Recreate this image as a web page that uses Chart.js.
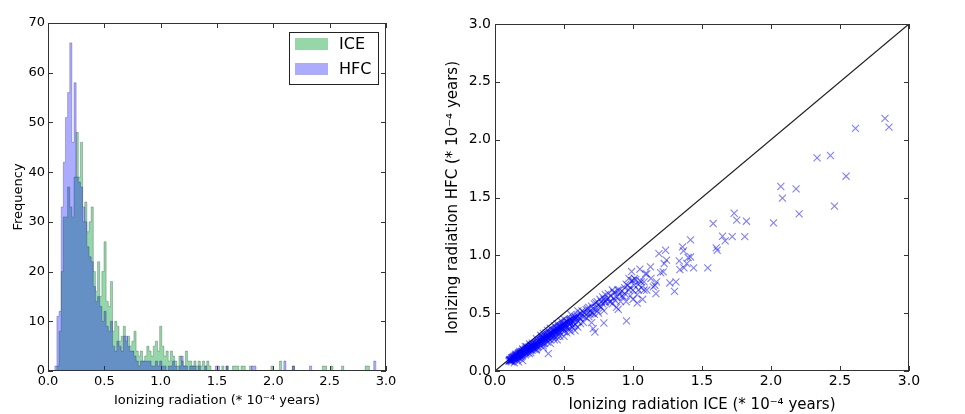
<!DOCTYPE html>
<html>
<head>
<meta charset="utf-8">
<script src="https://cdn.jsdelivr.net/npm/chart.js@4.4.0/dist/chart.umd.min.js"></script>
<style>
  html, body { margin: 0; padding: 0; background: #fff; }
  #wrap { position: relative; width: 965px; height: 414px; }
  #left { position: absolute; left: 0; top: 0; width: 400px; height: 414px; }
  #right { position: absolute; left: 400px; top: 0; width: 565px; height: 414px; }
</style>
</head>
<body>
<div id="wrap">
  <div id="left"><canvas id="hist"></canvas></div>
  <div id="right"><canvas id="scatter"></canvas></div>
</div>
<script>
// histogram bins
const BIN_START = 0.06;
const BIN_WIDTH = 0.019;

const ICE_COUNTS = [
  0, 1, 8, 20, 31, 31, 37, 33, 31, 39,
  48, 39, 46, 30, 34, 28, 30, 33, 20, 16,
  22, 15, 20, 26, 14, 13, 18, 8, 10, 9,
  6, 7, 9, 6, 7, 5, 6, 8, 4, 3,
  4, 2, 3, 5, 4, 3, 5, 6, 4, 9,
  5, 3, 4, 2, 4, 3, 2, 1, 3, 2,
  1, 4, 2, 2, 1, 2, 1, 2, 1, 2,
  1, 2, 1, 0, 0, 0, 0, 0, 1, 0,
  1, 0, 0, 1, 1, 1, 0, 1, 1, 0,
  0, 1, 0, 0, 0, 0, 0, 0, 0, 0,
  0, 1, 0, 0, 0, 2, 0, 0, 0, 0,
  0, 1, 0, 0, 0, 0, 0, 0, 0, 0,
  0, 0, 0, 0, 0, 1, 1, 0, 0, 1,
  0, 0, 0, 0, 1, 0, 0, 0, 0, 0,
  0, 0, 0, 0, 0, 1, 1, 0, 0, 0
];

const HFC_COUNTS = [
  1, 11, 12, 33, 42, 51, 56, 66, 46, 58,
  39, 38, 37, 33, 30, 25, 23, 22, 17, 14,
  15, 13, 10, 12, 9, 8, 10, 5, 4, 6,
  5, 4, 7, 7, 5, 4, 4, 3, 2, 1,
  2, 2, 2, 2, 2, 1, 1, 2, 1, 2,
  1, 1, 0, 1, 1, 2, 1, 0, 1, 3,
  1, 1, 0, 1, 1, 1, 0, 1, 0, 0,
  1, 0, 0, 0, 0, 1, 1, 0, 0, 0,
  1, 0, 0, 0, 0, 0, 0, 0, 0, 0,
  0, 0, 1, 1, 0, 0, 0, 0, 0, 0,
  0, 0, 0, 0, 0, 0, 0, 2, 0, 0,
  0, 1, 0, 0, 0, 0, 0, 0, 0, 1,
  0, 0, 0, 0, 0, 0, 0, 0, 0, 0,
  0, 0, 0, 0, 0, 0, 0, 0, 0, 0,
  0, 0, 0, 0, 0, 0, 0, 0, 0, 2
];

// scatter: [ICE, HFC] pairs
const SCATTER_POINTS = [
  [0.10,0.085],[0.105,0.09],[0.11,0.095],[0.11,0.085],[0.115,0.10],[0.12,0.10],[0.12,0.09],[0.125,0.11],
  [0.13,0.105],[0.13,0.115],[0.135,0.10],[0.14,0.12],[0.14,0.11],[0.145,0.125],[0.15,0.12],[0.15,0.13],
  [0.15,0.11],[0.155,0.135],[0.16,0.13],[0.16,0.14],[0.165,0.12],[0.17,0.145],[0.17,0.135],[0.175,0.15],
  [0.18,0.14],[0.18,0.155],[0.185,0.15],[0.19,0.16],[0.19,0.145],[0.195,0.165],[0.20,0.16],[0.20,0.17],
  [0.20,0.15],[0.12,0.08],[0.14,0.10],[0.16,0.12],[0.18,0.13],[0.13,0.12],[0.17,0.155],[0.11,0.10],
  [0.14,0.07],[0.17,0.08],[0.20,0.09],[0.16,0.10],[0.19,0.12],[0.15,0.145],[0.12,0.115],[0.18,0.17],
  [0.105,0.095],[0.115,0.09],[0.125,0.095],[0.125,0.105],[0.135,0.115],[0.135,0.125],[0.145,0.115],[0.145,0.135],
  [0.155,0.125],[0.155,0.14],[0.165,0.135],[0.165,0.145],[0.175,0.14],[0.175,0.16],[0.185,0.14],[0.185,0.16],
  [0.195,0.15],[0.195,0.17],[0.205,0.165],[0.205,0.18],[0.215,0.175],[0.215,0.16],[0.225,0.185],[0.225,0.17],
  [0.235,0.195],[0.235,0.18],[0.245,0.205],[0.245,0.19],[0.255,0.215],[0.255,0.20],[0.265,0.21],[0.265,0.225],
  [0.275,0.225],[0.275,0.205],[0.285,0.235],[0.285,0.215],[0.295,0.24],[0.295,0.225],[0.18,0.11],[0.20,0.13],
  [0.21,0.17],[0.21,0.18],[0.22,0.18],[0.22,0.19],[0.22,0.16],[0.23,0.19],[0.23,0.20],[0.24,0.20],
  [0.24,0.18],[0.25,0.21],[0.25,0.20],[0.25,0.19],[0.26,0.22],[0.26,0.20],[0.27,0.22],[0.27,0.21],
  [0.28,0.23],[0.28,0.21],[0.29,0.24],[0.29,0.22],[0.30,0.25],[0.30,0.23],[0.30,0.21],[0.24,0.16],
  [0.26,0.18],[0.28,0.19],[0.23,0.21],[0.27,0.24],[0.22,0.14],[0.30,0.19],[0.23,0.15],[0.27,0.18],
  [0.26,0.16],[0.29,0.19],[0.20,0.19],[0.25,0.235],[0.30,0.28],[0.25,0.15],[0.30,0.18],[0.22,0.21],
  [0.31,0.26],[0.31,0.24],[0.32,0.27],[0.32,0.25],[0.33,0.27],[0.33,0.25],[0.34,0.28],[0.34,0.26],
  [0.35,0.29],[0.35,0.27],[0.35,0.24],[0.36,0.30],[0.36,0.28],[0.37,0.30],[0.37,0.27],[0.38,0.31],
  [0.38,0.29],[0.39,0.32],[0.39,0.28],[0.40,0.33],[0.40,0.30],[0.40,0.27],[0.33,0.22],[0.36,0.24],
  [0.38,0.25],[0.34,0.30],[0.37,0.33],[0.31,0.21],[0.35,0.22],[0.35,0.325],[0.40,0.37],[0.35,0.20],
  [0.40,0.24],[0.33,0.31],[0.38,0.35],
  [0.305,0.25],[0.305,0.235],[0.315,0.255],[0.315,0.24],[0.325,0.265],[0.325,0.245],[0.335,0.275],[0.335,0.255],
  [0.345,0.285],[0.345,0.265],[0.355,0.285],[0.355,0.27],[0.365,0.295],[0.365,0.275],[0.375,0.305],[0.375,0.285],
  [0.385,0.315],[0.385,0.295],[0.395,0.325],[0.395,0.30],
  [0.41,0.33],[0.41,0.31],[0.42,0.35],[0.42,0.32],[0.43,0.35],[0.43,0.30],[0.44,0.36],[0.44,0.33],
  [0.45,0.37],[0.45,0.34],[0.45,0.30],[0.46,0.38],[0.46,0.35],[0.47,0.38],[0.47,0.33],[0.48,0.39],
  [0.48,0.36],[0.49,0.40],[0.49,0.37],[0.50,0.41],[0.50,0.38],[0.50,0.34],[0.43,0.27],[0.47,0.30],
  [0.405,0.335],[0.405,0.31],[0.415,0.34],[0.415,0.32],[0.425,0.35],[0.425,0.33],[0.435,0.355],[0.435,0.34],
  [0.445,0.365],[0.445,0.345],[0.455,0.375],[0.455,0.355],[0.465,0.385],[0.465,0.36],[0.475,0.39],[0.475,0.37],
  [0.485,0.40],[0.485,0.375],[0.495,0.405],[0.495,0.385],[0.42,0.29],[0.46,0.32],[0.50,0.36],
  [0.45,0.41],[0.50,0.45],[0.45,0.27],[0.50,0.30],[0.43,0.39],[0.48,0.43],
  [0.386,0.15],
  [0.51,0.42],[0.51,0.39],[0.52,0.43],[0.52,0.38],[0.53,0.42],[0.53,0.36],[0.54,0.44],[0.54,0.40],
  [0.55,0.45],[0.55,0.41],[0.56,0.44],[0.56,0.38],[0.57,0.46],[0.57,0.42],[0.58,0.47],[0.58,0.40],
  [0.59,0.46],[0.60,0.48],[0.60,0.43],[0.60,0.38],[0.55,0.34],[0.58,0.35],[0.52,0.33],[0.55,0.49],
  [0.505,0.415],[0.505,0.395],[0.515,0.425],[0.515,0.40],[0.525,0.43],[0.535,0.44],[0.545,0.445],[0.545,0.42],
  [0.565,0.455],[0.575,0.44],[0.585,0.46],[0.595,0.47],[0.54,0.37],[0.57,0.39],[0.60,0.52],
  [0.62,0.50],[0.62,0.45],[0.63,0.48],[0.64,0.51],[0.64,0.42],[0.65,0.50],[0.66,0.53],[0.66,0.46],
  [0.67,0.50],[0.68,0.55],[0.68,0.47],[0.69,0.52],[0.70,0.56],[0.70,0.50],[0.70,0.418],[0.71,0.54],
  [0.72,0.58],[0.72,0.49],[0.73,0.55],[0.74,0.60],[0.74,0.52],[0.75,0.57],[0.75,0.50],[0.76,0.62],
  [0.77,0.55],[0.78,0.64],[0.78,0.58],[0.79,0.52],[0.80,0.60],[0.80,0.66],[0.724,0.337],[0.712,0.366],
  [0.789,0.415],[0.797,0.591],[0.61,0.49],[0.61,0.46],[0.63,0.52],[0.65,0.47],[0.67,0.54],[0.69,0.49],
  [0.71,0.50],[0.73,0.59],[0.76,0.56],[0.77,0.60],[0.79,0.62],[0.62,0.41],
  [0.81,0.62],[0.82,0.67],[0.83,0.60],[0.84,0.65],[0.85,0.70],[0.85,0.58],[0.86,0.63],[0.87,0.68],
  [0.88,0.64],[0.88,0.55],[0.89,0.70],[0.893,0.534],[0.90,0.66],[0.91,0.60],[0.92,0.69],[0.93,0.64],
  [0.94,0.72],[0.95,0.75],[0.95,0.60],[0.953,0.433],[0.97,0.70],[0.97,0.80],[0.98,0.65],[0.98,0.72],
  [0.99,0.78],[0.99,0.86],[1.00,0.70],[1.00,0.62],[0.82,0.63],[0.84,0.60],[0.86,0.68],[0.87,0.61],
  [0.90,0.70],[0.92,0.65],[0.94,0.67],[0.96,0.74],[1.00,0.78],
  [1.01,0.74],[1.02,0.79],[1.031,0.588],[1.03,0.66],[1.04,0.75],[1.05,0.88],[1.05,0.78],[1.06,0.72],
  [1.07,0.62],[1.08,0.77],[1.09,0.84],[1.10,0.84],[1.10,0.70],[1.127,0.90],[1.13,0.80],[1.147,0.727],
  [1.01,0.80],[1.04,0.70],[1.06,0.77],[1.08,0.70],
  [1.159,0.741],[1.166,0.669],[1.17,0.77],[1.188,1.015],[1.20,0.85],[1.219,0.857],[1.226,0.929],
  [1.236,1.044],[1.243,0.958],[1.267,0.761],[1.301,0.689],[1.311,0.770],[1.335,0.952],[1.340,0.877],
  [1.359,1.073],[1.366,1.038],[1.369,0.891],[1.390,0.929],[1.400,0.981],[1.417,0.986],[1.417,1.134],
  [1.439,0.891],[1.542,0.891],[1.581,1.275],[1.603,1.064],[1.610,1.044],[1.649,1.165],[1.668,1.125],
  [1.719,1.162],[1.733,1.364],[1.752,1.304],[1.810,1.162],[1.822,1.295],[2.018,1.281],[2.071,1.595],
  [2.083,1.494],[2.182,1.575],[2.204,1.359],[2.334,1.843],[2.431,1.863],[2.460,1.425],[2.544,1.684],
  [2.612,2.097],[2.826,2.184],[2.855,2.109]
];

const AXIS_TICKS = [0, 0.5, 1.0, 1.5, 2.0, 2.5, 3.0];
const FREQ_MAX = 70;

Chart.defaults.font.family = "'DejaVu Sans', sans-serif";
Chart.defaults.color = "#000";

// inward ticks on all four sides + frame, like the matplotlib look
const frameTicks = {
  id: "frameTicks",
  afterDraw(chart) {
    const { ctx, chartArea: a, scales } = chart;
    const L = 5;
    ctx.save();
    ctx.strokeStyle = "#333";
    ctx.lineWidth = 1;
    ctx.beginPath();
    scales.x.ticks.forEach((t) => {
      const px = Math.round(scales.x.getPixelForValue(t.value)) + 0.5;
      ctx.moveTo(px, a.bottom); ctx.lineTo(px, a.bottom - L);
      ctx.moveTo(px, a.top); ctx.lineTo(px, a.top + L);
    });
    scales.y.ticks.forEach((t) => {
      const py = Math.round(scales.y.getPixelForValue(t.value)) + 0.5;
      ctx.moveTo(a.left, py); ctx.lineTo(a.left + L, py);
      ctx.moveTo(a.right, py); ctx.lineTo(a.right - L, py);
    });
    ctx.stroke();
    ctx.strokeRect(Math.round(a.left) + 0.5, Math.round(a.top) + 0.5,
                   Math.round(a.width) - 1, Math.round(a.height) - 1);
    ctx.restore();
  }
};

// legend box in the upper right corner of the histogram
const boxLegend = {
  id: "boxLegend",
  afterDraw(chart) {
    const { ctx, chartArea: a } = chart;
    const w = 89, h = 52;
    const x0 = a.right - 8 - w, y0 = a.top + 9;
    ctx.save();
    ctx.fillStyle = "#fff";
    ctx.fillRect(x0, y0, w, h);
    ctx.strokeStyle = "#222";
    ctx.lineWidth = 1;
    ctx.strokeRect(x0 + 0.5, y0 + 0.5, w, h);
    ctx.font = "16px 'DejaVu Sans'";
    ctx.textBaseline = "middle";
    chart.data.datasets.forEach((ds, i) => {
      const yy = y0 + 6 + i * 25;
      ctx.fillStyle = ds.backgroundColor;
      ctx.fillRect(x0 + 6, yy, 33, 12);
      ctx.fillStyle = "#000";
      ctx.fillText(ds.label, x0 + 50, yy + 7);
    });
    ctx.restore();
  }
};

// bin edges -> step outline (left edge of each bin, plus closing right edge)
function binData(counts) {
  const pts = [{ x: BIN_START, y: 0 }];
  counts.forEach((c, i) => pts.push({ x: BIN_START + BIN_WIDTH * i, y: c }));
  pts.push({ x: BIN_START + BIN_WIDTH * counts.length, y: 0 });
  return pts;
}

function axisTicks(values) {
  return (axis) => { axis.ticks = values.map((v) => ({ value: v })); };
}

new Chart(document.getElementById("hist").getContext("2d"), {
  type: "line",
  data: {
    datasets: [
      {
        label: "ICE",
        data: binData(ICE_COUNTS),
        backgroundColor: "rgba(46,176,86,0.5)",
        borderColor: "rgba(30,60,40,0.35)",
        borderWidth: 0.8,
        stepped: "before",
        fill: "origin",
        pointRadius: 0,
        order: 2,
      },
      {
        label: "HFC",
        data: binData(HFC_COUNTS),
        backgroundColor: "rgba(0,0,255,0.33)",
        borderColor: "rgba(30,30,90,0.35)",
        borderWidth: 0.8,
        stepped: "before",
        fill: "origin",
        pointRadius: 0,
        order: 1,
      },
    ],
  },
  options: {
    responsive: true,
    maintainAspectRatio: false,
    animation: false,
    layout: { padding: { top: 23, right: 14, left: 0, bottom: 0 } },
    plugins: { legend: { display: false }, tooltip: { enabled: false } },
    scales: {
      x: {
        type: "linear",
        min: 0,
        max: 3,
        afterBuildTicks: axisTicks(AXIS_TICKS),
        ticks: { callback: (v) => v.toFixed(1), font: { size: 13 }, padding: 3, maxRotation: 0, autoSkip: false },
        grid: { display: false, drawTicks: false },
        border: { display: false },
        title: { display: true, text: "Ionizing radiation (* 10⁻⁴ years)", font: { size: 13 }, padding: { top: 0, bottom: 6 } },
        afterFit: (s) => { s.height = 43; },
      },
      y: {
        min: 0,
        max: FREQ_MAX,
        ticks: { stepSize: 10, font: { size: 13 }, padding: 3 },
        grid: { display: false, drawTicks: false },
        border: { display: false },
        title: { display: true, text: "Frequency", font: { size: 13 }, padding: { top: 11, bottom: 0 } },
        afterFit: (s) => { s.width = 48; },
      },
    },
  },
  plugins: [frameTicks, boxLegend],
});

new Chart(document.getElementById("scatter").getContext("2d"), {
  type: "scatter",
  data: {
    datasets: [
      {
        label: "HFC vs ICE",
        data: SCATTER_POINTS.map((p) => ({ x: p[0], y: p[1] })),
        pointStyle: "crossRot",
        pointRadius: 5,
        pointBorderWidth: 1.1,
        borderColor: "rgba(0,0,255,0.5)",
        backgroundColor: "rgba(0,0,255,0.5)",
        order: 1,
      },
      {
        type: "line",
        label: "y = x",
        data: [{ x: AXIS_TICKS[0], y: AXIS_TICKS[0] }, { x: AXIS_TICKS[6], y: AXIS_TICKS[6] }],
        borderColor: "#222",
        borderWidth: 1.3,
        pointRadius: 0,
        order: 2,
      },
    ],
  },
  options: {
    responsive: true,
    maintainAspectRatio: false,
    animation: false,
    layout: { padding: { top: 24, right: 56, left: 0, bottom: 0 } },
    plugins: { legend: { display: false }, tooltip: { enabled: false } },
    scales: {
      x: {
        type: "linear",
        min: 0,
        max: 3,
        afterBuildTicks: axisTicks(AXIS_TICKS),
        ticks: { callback: (v) => v.toFixed(1), font: { size: 14 }, padding: 2, maxRotation: 0, autoSkip: false },
        grid: { display: false, drawTicks: false },
        border: { display: false },
        title: { display: true, text: "Ionizing radiation ICE (* 10⁻⁴ years)", font: { size: 15 }, padding: { top: 0, bottom: 0 } },
        afterFit: (s) => { s.height = 43; },
      },
      y: {
        type: "linear",
        min: 0,
        max: 3,
        afterBuildTicks: axisTicks(AXIS_TICKS),
        ticks: { callback: (v) => v.toFixed(1), font: { size: 14 }, padding: 4, autoSkip: false },
        grid: { display: false, drawTicks: false },
        border: { display: false },
        title: { display: true, text: "Ionizing radiation HFC (* 10⁻⁴ years)", font: { size: 15 }, padding: { top: 44, bottom: 0 } },
        afterFit: (s) => { s.width = 95; },
      },
    },
  },
  plugins: [frameTicks],
});
</script>
</body>
</html>
